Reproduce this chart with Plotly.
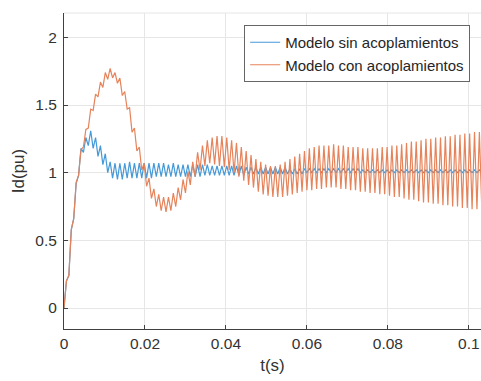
import plotly.graph_objects as go

# Sampling step of the stored traces (s): one value every half ripple period
sample_step = 0.0006

# d-axis current (pu), model without coupling terms
id_sin_acoplamientos = [
    0.00, 0.20, 0.24, 0.58, 0.66, 0.92, 0.98, 1.18, 1.15, 1.26,
    1.20, 1.31, 1.18, 1.26, 1.12, 1.20, 1.06, 1.14, 1.00, 1.08,
    0.96, 1.07, 0.95, 1.07, 0.95, 1.07, 0.96, 1.08, 0.96, 1.07,
    0.96, 1.07, 0.96, 1.07, 0.96, 1.07, 0.96, 1.07, 0.97, 1.07,
    0.97, 1.07, 0.97, 1.06, 0.97, 1.07, 0.97, 1.06, 0.97, 1.06,
    0.97, 1.06, 0.97, 1.06, 0.97, 1.06, 0.97, 1.06, 0.98, 1.06,
    0.98, 1.05, 0.98, 1.05, 0.98, 1.05, 0.98, 1.05, 0.98, 1.05,
    0.98, 1.05, 0.98, 1.05, 0.98, 1.04, 0.99, 1.04, 0.99, 1.04,
    0.99, 1.04, 0.99, 1.04, 0.99, 1.04, 0.99, 1.04, 0.99, 1.04,
    0.99, 1.04, 0.99, 1.03, 0.99, 1.03, 0.99, 1.03, 0.99, 1.03,
    1.00, 1.03, 1.00, 1.03, 1.00, 1.03, 1.00, 1.03, 1.00, 1.03,
    1.00, 1.03, 1.00, 1.03, 1.00, 1.03, 1.00, 1.03, 1.00, 1.03,
    1.00, 1.03, 1.00, 1.02, 1.00, 1.02, 1.00, 1.02, 1.00, 1.02,
    1.00, 1.02, 1.00, 1.02, 1.00, 1.02, 1.00, 1.02, 1.00, 1.02,
    1.00, 1.02, 1.00, 1.02, 1.00, 1.02, 1.00, 1.02, 1.00, 1.02,
    1.00, 1.02, 1.00, 1.02, 1.00, 1.02, 1.00, 1.02, 1.00, 1.02,
    1.00, 1.02, 1.00, 1.02, 1.00, 1.02, 1.00, 1.02, 1.00, 1.02,
    1.00, 1.02, 1.00, 1.02,
]

# d-axis current (pu), model with coupling terms
id_con_acoplamientos = [
    0.00, 0.20, 0.24, 0.58, 0.66, 0.93, 0.98, 1.17, 1.19, 1.32,
    1.33, 1.47, 1.46, 1.58, 1.56, 1.67, 1.63, 1.74, 1.69, 1.77,
    1.70, 1.74, 1.66, 1.70, 1.57, 1.60, 1.47, 1.48, 1.30, 1.33,
    1.16, 1.19, 1.02, 1.07, 0.90, 0.96, 0.81, 0.88, 0.75, 0.84,
    0.72, 0.82, 0.71, 0.82, 0.72, 0.85, 0.75, 0.89, 0.80, 0.95,
    0.85, 1.01, 0.91, 1.08, 0.97, 1.15, 1.02, 1.20, 1.05, 1.24,
    1.07, 1.26, 1.06, 1.27, 1.05, 1.27, 1.04, 1.26, 1.02, 1.24,
    1.00, 1.22, 0.97, 1.19, 0.94, 1.16, 0.91, 1.13, 0.89, 1.10,
    0.86, 1.08, 0.84, 1.06, 0.83, 1.05, 0.82, 1.05, 0.82, 1.06,
    0.82, 1.08, 0.83, 1.10, 0.84, 1.12, 0.85, 1.14, 0.86, 1.16,
    0.87, 1.18, 0.87, 1.19, 0.88, 1.20, 0.88, 1.20, 0.89, 1.20,
    0.89, 1.21, 0.89, 1.20, 0.88, 1.20, 0.88, 1.19, 0.87, 1.19,
    0.87, 1.19, 0.86, 1.18, 0.86, 1.18, 0.85, 1.18, 0.85, 1.18,
    0.84, 1.19, 0.84, 1.19, 0.83, 1.20, 0.82, 1.20, 0.82, 1.21,
    0.81, 1.22, 0.80, 1.23, 0.80, 1.23, 0.79, 1.24, 0.78, 1.25,
    0.78, 1.25, 0.77, 1.26, 0.77, 1.26, 0.76, 1.27, 0.76, 1.27,
    0.75, 1.28, 0.75, 1.28, 0.74, 1.29, 0.74, 1.29, 0.73, 1.30,
    0.73, 1.30, 0.73, 1.30,
]

series_names = ["Modelo sin acoplamientos", "Modelo con acoplamientos"]
series_colors = ["#4499d8", "#e6835a"]

x_ticks = [0, 0.02, 0.04, 0.06, 0.08, 0.1]
x_tick_text = ["0", "0.02", "0.04", "0.06", "0.08", "0.1"]
y_ticks = [0, 0.5, 1, 1.5, 2]
y_tick_text = ["0", "0.5", "1", "1.5", "2"]

time_s = [round(i * sample_step, 6) for i in range(len(id_sin_acoplamientos))]

fig = go.Figure()
for name, values, color in zip(series_names,
                               [id_sin_acoplamientos, id_con_acoplamientos],
                               series_colors):
    fig.add_trace(go.Scatter(
        x=time_s, y=values, mode="lines", name=name,
        line=dict(color=color, width=1.2),
    ))

axis_color = "#404040"
grid_color = "#e6e6e6"
font_family = "Liberation Sans, Arial, sans-serif"

fig.update_layout(
    width=481, height=381,
    margin=dict(l=64, r=0, t=13, b=52),
    paper_bgcolor="white", plot_bgcolor="white",
    font=dict(family=font_family, size=15.5, color="#333333"),
    showlegend=True,
    legend=dict(
        x=0.974, y=0.962, xanchor="right", yanchor="top",
        bgcolor="white", bordercolor="#666666", borderwidth=1,
        font=dict(size=15, color="#262626"),
        itemwidth=30, tracegroupgap=0,
    ),
    xaxis=dict(
        range=[0, 0.103], tickvals=x_ticks, ticktext=x_tick_text,
        showgrid=True, gridcolor=grid_color, gridwidth=1, zeroline=False,
        showline=True, linecolor=axis_color, linewidth=1,
        ticks="inside", ticklen=4, tickcolor=axis_color,
        ticklabelstandoff=0,
        title=dict(text="t(s)", font=dict(size=17), standoff=8),
    ),
    yaxis=dict(
        range=[-0.155, 2.18], tickvals=y_ticks, ticktext=y_tick_text,
        showgrid=True, gridcolor=grid_color, gridwidth=1, zeroline=False,
        showline=True, linecolor=axis_color, linewidth=1,
        ticks="inside", ticklen=4, tickcolor=axis_color,
        ticklabelstandoff=3,
        title=dict(text="Id(pu)", font=dict(size=17), standoff=6),
    ),
)

# light top border of the axes box
fig.add_shape(type="line", xref="paper", yref="paper", x0=0, x1=1, y0=1, y1=1,
              line=dict(color=grid_color, width=1))

fig.write_html("out.html")
